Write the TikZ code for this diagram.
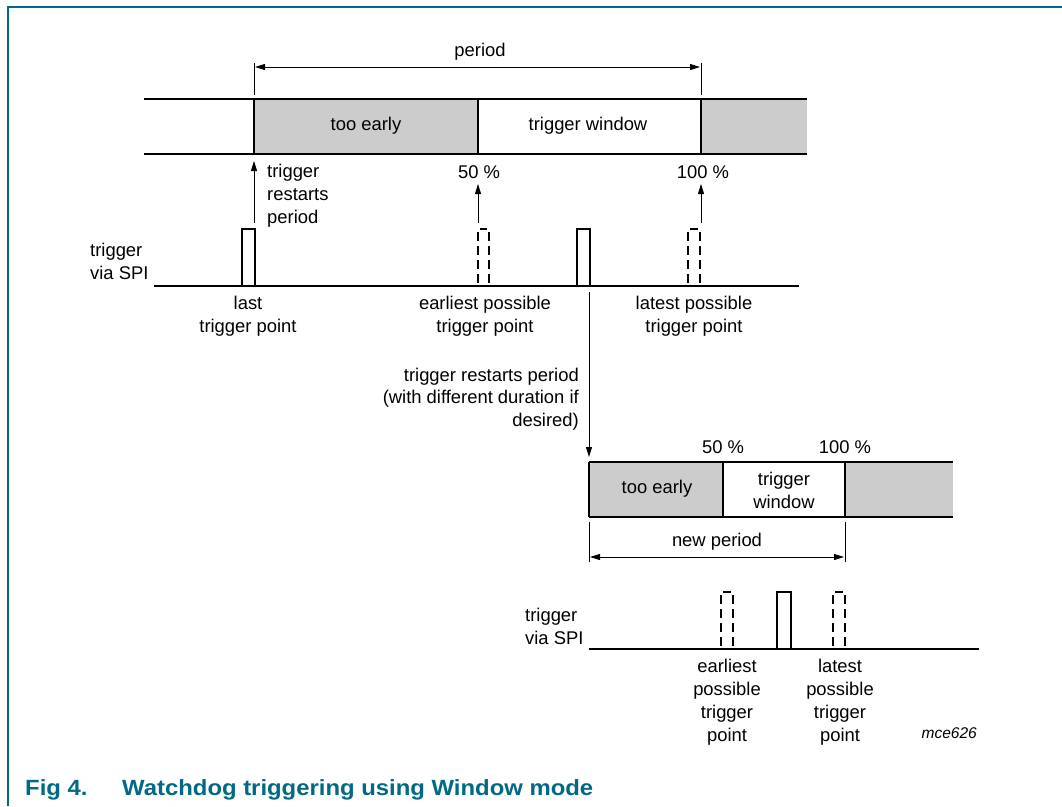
\documentclass[tikz,border=0pt]{standalone}
\usepackage{fontspec}
\setmainfont{Liberation Sans}
\usetikzlibrary{arrows.meta}
\definecolor{nxpteal}{RGB}{0,106,133}
\definecolor{bandgray}{RGB}{204,204,204}
\begin{document}
\begin{tikzpicture}[x=1pt,y=-1pt,
  lbl/.style={inner sep=0pt, font=\fontsize{18.4}{23}\selectfont, align=center},
  lbll/.style={inner sep=0pt, font=\fontsize{18.4}{23}\selectfont, align=left},
  lblr/.style={inner sep=0pt, font=\fontsize{18.4}{22.5}\selectfont, align=right},
  bandline/.style={line width=2.6pt},
  sigline/.style={line width=2.6pt},
  pulse/.style={line width=2pt},
  dpulse/.style={line width=2pt, dash pattern=on 9pt off 5pt},
  arr/.style={line width=0.9pt, -{Triangle[length=10pt,width=6pt]}},
  dimarrow/.style={line width=0.9pt, {Triangle[length=10pt,width=6pt]}-{Triangle[length=10pt,width=6pt]}},
  ticks/.style={line width=0.8pt},
  capt/.style={inner sep=0pt, anchor=west, text=nxpteal, font=\fontsize{22}{26}\selectfont\bfseries},
]
\useasboundingbox (0,0) rectangle (1062,806);
\fill[white] (0,0) rectangle (1062,806);
% frame
\draw[nxpteal, line width=1.5pt] (8,806) -- (8,7) -- (1062,7);

% ===== top band =====
\fill[bandgray] (254,99) rectangle (478,154);
\fill[bandgray] (701,99) rectangle (807,154);
\draw[bandline] (144,99) -- (807,99);
\draw[bandline] (144,154) -- (807,154);
\draw[bandline] (254,99) -- (254,154);
\draw[bandline] (478,99) -- (478,154);
\draw[bandline] (701,99) -- (701,154);
\node[lbl] (tooearly1) at (366,126) {too early};
\node[lbl] (window1) at (588,126) {trigger window};

% period dimension
\coordinate (p1a) at (254,63); \coordinate (p1b) at (254,95);
\coordinate (p2a) at (701,63); \coordinate (p2b) at (701,95);
\draw[ticks] (p1a) -- (p1b);
\draw[ticks] (p2a) -- (p2b);
\coordinate (pl) at (255,67); \coordinate (pr) at (700,67);
\draw[dimarrow] (pl) -- (pr);
\node[lbl] (period) at (480,52) {period};

% percent labels
\node[lbl] (fifty1) at (479,172) {50 \%};
\node[lbl] (hundred1) at (703,172) {100 \%};

% restart arrows
\coordinate (r0) at (254,223); \coordinate (r1) at (254,161);
\draw[arr] (r0) -- (r1);
\coordinate (e0) at (478,223); \coordinate (e1) at (478,184);
\draw[arr] (e0) -- (e1);
\coordinate (l0) at (701,223); \coordinate (l1) at (701,184);
\draw[arr] (l0) -- (l1);
\node[lbll, anchor=west] (restart1) at (267,196) {trigger\\restarts\\period};

% ===== first trigger line =====
\node[lbll, anchor=west] (spi1) at (90,261) {trigger\\via SPI};
\draw[sigline] (154,286) -- (799,286);
% solid pulses
\draw[pulse] (242,286) -- (242,229) -- (255,229) -- (255,286);
\draw[pulse] (577,286) -- (577,229) -- (590,229) -- (590,286);
% dashed pulses
\draw[dpulse] (478,232) -- (478,286);
\draw[dpulse] (489,232) -- (489,286);
\draw[pulse] (480,229) -- (487,229);
\draw[dpulse] (688,232) -- (688,286);
\draw[dpulse] (700,232) -- (700,286);
\draw[pulse] (690,229) -- (698,229);

\node[lbl] (last) at (248,316) {last\\trigger point};
\node[lbl] (earliest1) at (485,316) {earliest possible\\trigger point};
\node[lbl] (latest1) at (694,316) {latest possible\\trigger point};

% restart arrow to new period
\coordinate (d0) at (589,292); \coordinate (d1) at (589,457);
\draw[arr] (d0) -- (d1);
\node[lblr, anchor=east] (restart2) at (579,399) {trigger restarts period\\(with different duration if\\desired)};

% ===== second band =====
\fill[bandgray] (589,462) rectangle (723,517);
\fill[bandgray] (845,462) rectangle (953,517);
\draw[bandline] (589,462) -- (953,462);
\draw[bandline] (589,517) -- (953,517);
\draw[bandline] (589,462) -- (589,517);
\draw[bandline] (723,462) -- (723,517);
\draw[bandline] (845,462) -- (845,517);
\node[lbl] (tooearly2) at (657,489) {too early};
\node[lbl] (window2) at (784,490) {trigger\\window};
\node[lbl] (fifty2) at (723,447) {50 \%};
\node[lbl] (hundred2) at (845,447) {100 \%};

% new period dimension
\coordinate (q1a) at (589,522); \coordinate (q1b) at (589,562);
\coordinate (q2a) at (845,522); \coordinate (q2b) at (845,562);
\draw[ticks] (q1a) -- (q1b);
\draw[ticks] (q2a) -- (q2b);
\coordinate (ql) at (590,557); \coordinate (qr) at (844,557);
\draw[dimarrow] (ql) -- (qr);
\node[lbl] (newperiod) at (717,542) {new period};

% ===== second trigger line =====
\node[lbll, anchor=west] (spi2) at (525,626) {trigger\\via SPI};
\draw[sigline] (589,649) -- (979,649);
\draw[pulse] (777,649) -- (777,592) -- (791,592) -- (791,649);
\draw[dpulse] (721,595) -- (721,649);
\draw[dpulse] (733,595) -- (733,649);
\draw[pulse] (723,592) -- (731,592);
\draw[dpulse] (833,595) -- (833,649);
\draw[dpulse] (845,595) -- (845,649);
\draw[pulse] (835,592) -- (843,592);

\node[lbl] (earliest2) at (727,702) {earliest\\possible\\trigger\\point};
\node[lbl] (latest2) at (840,702) {latest\\possible\\trigger\\point};
\node[inner sep=0pt, anchor=east, font=\fontsize{15.5}{18}\selectfont\itshape] (mce) at (977,733) {mce626};

% caption
\node[capt] (fig) at (25,790) {\scalebox{1.085}[1]{Fig 4.}};
\node[capt] (title) at (122,790) {\scalebox{1.085}[1]{Watchdog triggering using Window mode}};
\end{tikzpicture}
\end{document}
